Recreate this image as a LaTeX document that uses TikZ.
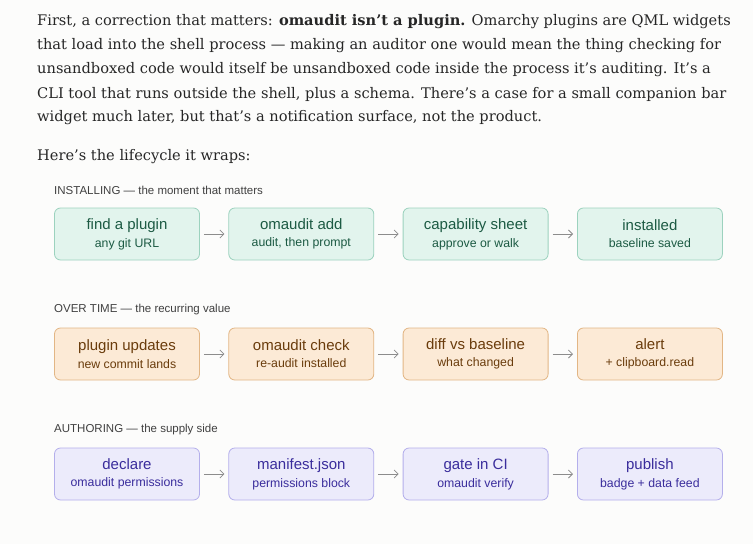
\documentclass[tikz,border=0pt]{standalone}
\usepackage{fontspec}
\setmainfont{DejaVu Serif}[Ligatures=TeX]
\newfontfamily\boxfont{Liberation Sans}[Ligatures=TeX]
\usepackage{tikz}
\usetikzlibrary{arrows.meta, positioning}

\definecolor{bgpage}{HTML}{FCFCFB}
\definecolor{greenfill}{HTML}{E2F4ED}
\definecolor{greendraw}{HTML}{9CD2BE}
\definecolor{greentext}{HTML}{1C5A43}
\definecolor{orangefill}{HTML}{FCEAD6}
\definecolor{orangedraw}{HTML}{E2B685}
\definecolor{orangetext}{HTML}{6A3C0C}
\definecolor{purplefill}{HTML}{ECEBFB}
\definecolor{purpledraw}{HTML}{B4AFEB}
\definecolor{purpletext}{HTML}{3A2D9C}

\tikzset{
    para/.style={anchor=west, inner sep=0pt, font=\fontsize{14.6}{18}\selectfont, text=black!85},
    rowlabel/.style={anchor=west, inner sep=0pt, font=\boxfont\fontsize{11.5}{13}\selectfont, text=black!75},
    stepbase/.style={draw, rounded corners=6pt, line width=0.8pt, minimum width=145pt,
        minimum height=52pt, align=center, inner sep=0pt, font=\boxfont},
    installstep/.style={stepbase, fill=greenfill, draw=greendraw, text=greentext},
    timestep/.style={stepbase, fill=orangefill, draw=orangedraw, text=orangetext},
    authorstep/.style={stepbase, fill=purplefill, draw=purpledraw, text=purpletext},
    flow/.style={-{Straight Barb[length=4pt]}, draw=black!45, line width=0.8pt, shorten <=4pt, shorten >=4pt}
}
\newcommand{\stepbox}[2]{{\fontsize{15}{17}\selectfont #1}\\[5pt]{\fontsize{12.3}{14}\selectfont #2}}

\begin{document}
\begin{tikzpicture}[x=1pt, y=-1pt]
    \fill[bgpage] (0,0) rectangle (753,544);
    \useasboundingbox (0,0) rectangle (753,544);

    % intro text
    \node[para] (p1) at (37,22) {First, a correction that matters: \textbf{omaudit isn't a plugin.} Omarchy plugins are QML widgets};
    \node[para] (p2) at (37,46) {that load into the shell process — making an auditor one would mean the thing checking for};
    \node[para] (p3) at (37,70) {unsandboxed code would itself be unsandboxed code inside the process it's auditing. It's a};
    \node[para] (p4) at (37,94) {CLI tool that runs outside the shell, plus a schema. There's a case for a small companion bar};
    \node[para] (p5) at (37,118) {widget much later, but that's a notification surface, not the product.};
    \node[para] (p6) at (37,157) {Here's the lifecycle it wraps:};

    % installing
    \node[rowlabel] (l1) at (54,190) {INSTALLING — the moment that matters};
    \node[installstep] (find) at (127,234) {\stepbox{find a plugin}{any git URL}};
    \node[installstep, right=28.5pt of find] (add) {\stepbox{omaudit add}{audit, then prompt}};
    \node[installstep, right=28.5pt of add] (sheet) {\stepbox{capability sheet}{approve or walk}};
    \node[installstep, right=28.5pt of sheet] (installed) {\stepbox{installed}{baseline saved}};

    % over time
    \node[rowlabel] (l2) at (54,310) {OVER TIME — the recurring value};
    \node[timestep] (updates) at (127,354) {\stepbox{plugin updates}{new commit lands}};
    \node[timestep, right=28.5pt of updates] (check) {\stepbox{omaudit check}{re-audit installed}};
    \node[timestep, right=28.5pt of check] (diff) {\stepbox{diff vs baseline}{what changed}};
    \node[timestep, right=28.5pt of diff] (alert) {\stepbox{alert}{+ clipboard.read}};

    % authoring
    \node[rowlabel] (l3) at (54,430) {AUTHORING — the supply side};
    \node[authorstep] (declare) at (127,474) {\stepbox{declare}{omaudit permissions}};
    \node[authorstep, right=28.5pt of declare] (manifest) {\stepbox{manifest.json}{permissions block}};
    \node[authorstep, right=28.5pt of manifest] (gate) {\stepbox{gate in CI}{omaudit verify}};
    \node[authorstep, right=28.5pt of gate] (publish) {\stepbox{publish}{badge + data feed}};

    \foreach \a/\b in {find/add, add/sheet, sheet/installed,
        updates/check, check/diff, diff/alert,
        declare/manifest, manifest/gate, gate/publish}
        \draw[flow] (\a) -- (\b);
\end{tikzpicture}
\end{document}
